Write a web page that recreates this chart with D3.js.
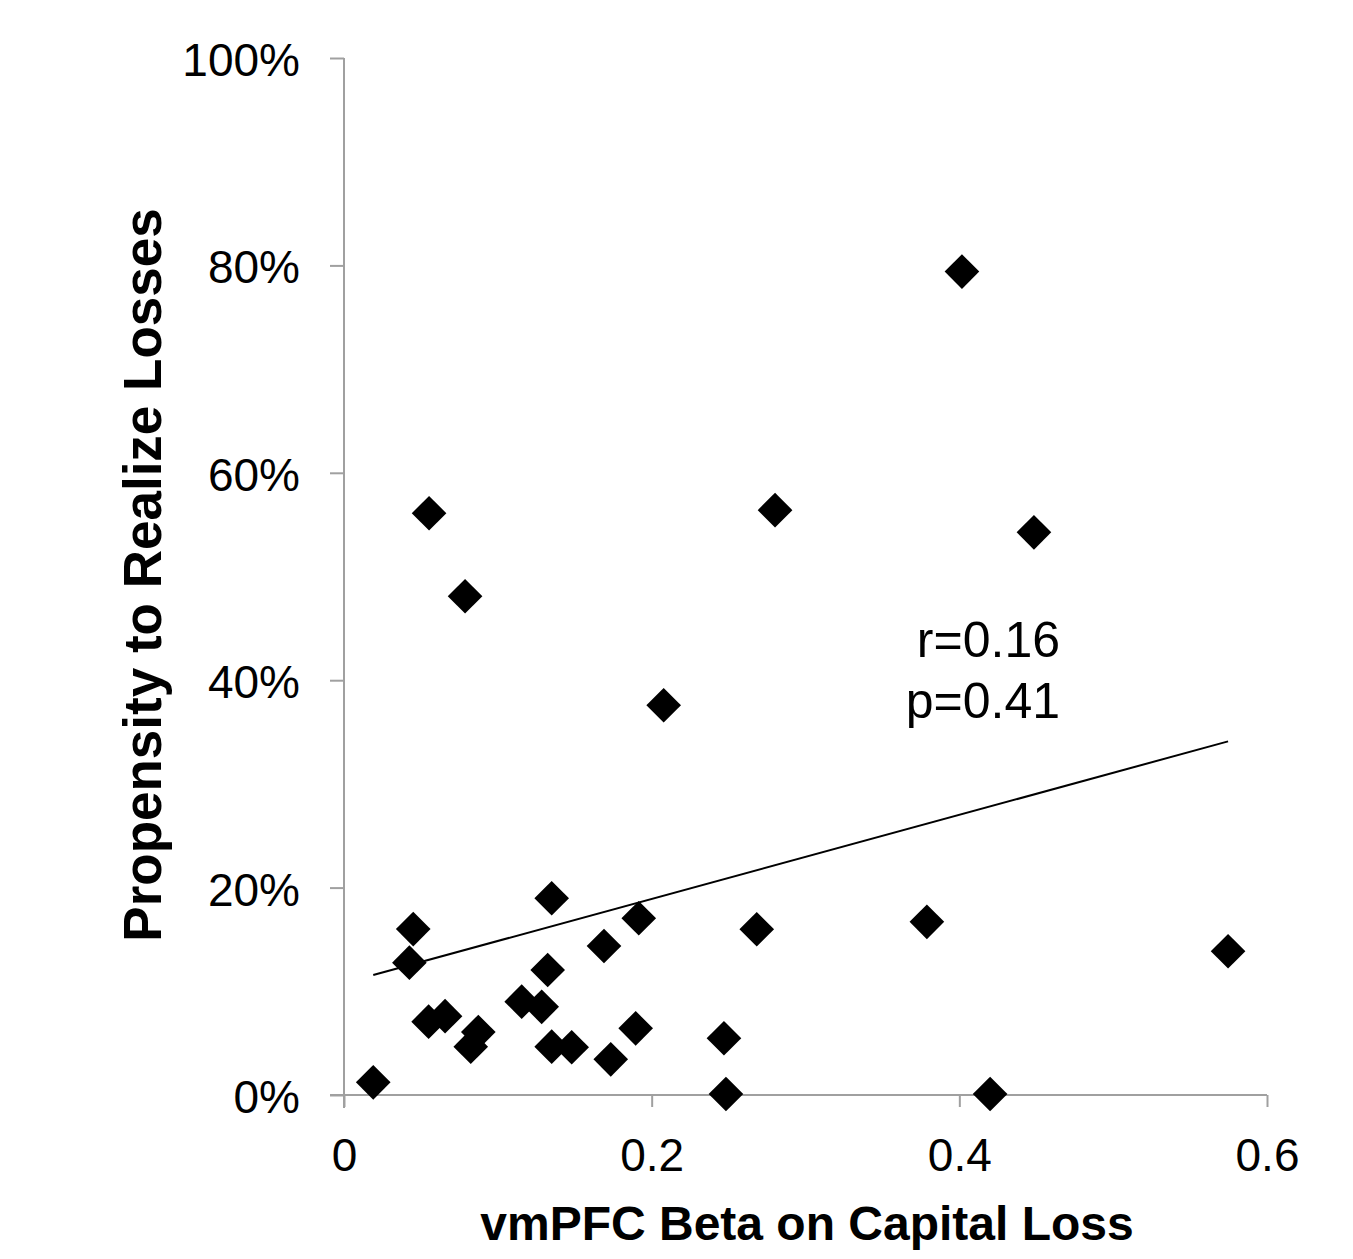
<!DOCTYPE html>
<html>
<head>
<meta charset="utf-8">
<script src="https://cdn.jsdelivr.net/npm/d3@7"></script>
<style>
  html, body { margin: 0; padding: 0; background: #fff; }
  svg { display: block; }
  text { font-family: "Liberation Sans", Arial, sans-serif; fill: #000; }
</style>
</head>
<body>
<svg id="chart" width="1353" height="1259"></svg>
<script>
// ---- data ----
const betaValues = [0.019, 0.045, 0.0425, 0.055, 0.0657, 0.0873, 0.0824, 0.1155, 0.1285, 0.1324,
                    0.135, 0.135, 0.148, 0.1734, 0.169, 0.1896, 0.1916, 0.2683, 0.3789, 0.5747,
                    0.247, 0.2483, 0.42, 0.0553, 0.0787, 0.2078, 0.4017, 0.2802, 0.4485];
const propensityValues = [0.0122, 0.160, 0.1276, 0.0707, 0.076, 0.0607, 0.0466, 0.090, 0.085, 0.1205,
                          0.1897, 0.0466, 0.046, 0.0344, 0.1437, 0.0643, 0.1704, 0.1598, 0.167, 0.1386,
                          0.0547, 0.001, 0.001, 0.561, 0.481, 0.3758, 0.794, 0.564, 0.5426];
const trendX = [0.019, 0.5747];
const trendY = [0.1157, 0.341];
const xTicks = [0, 0.2, 0.4, 0.6];
const yTicks = [0, 0.2, 0.4, 0.6, 0.8, 1.0];
const xTitle = "vmPFC Beta on Capital Loss";
const yTitle = "Propensity to Realize Losses";
const statLines = ["r=0.16", "p=0.41"];

// ---- layout ----
const svg = d3.select("#chart");
const x = d3.scaleLinear().domain([0, 0.6]).range([344, 1267]);
const y = d3.scaleLinear().domain([0, 1]).range([1095, 58]);
const axisColor = "#a0a0a0";

// y axis
const yAxis = svg.append("g").attr("transform", `translate(${x(0)},0)`)
  .call(d3.axisLeft(y).tickValues(yTicks).tickFormat(d3.format(".0%")).tickSize(14).tickPadding(30));
yAxis.select(".domain").attr("stroke", axisColor).attr("stroke-width", 2).attr("d", `M0,${y(1)}V${y(0) + 13}`);
yAxis.selectAll(".tick line").attr("stroke", axisColor).attr("stroke-width", 2);
yAxis.selectAll(".tick text").attr("font-size", 46).attr("font-family", "Liberation Sans, Arial, sans-serif")
  .attr("fill", "#000").attr("dy", "0.38em");

// x axis
const xAxis = svg.append("g").attr("transform", `translate(0,${y(0)})`)
  .call(d3.axisBottom(x).tickValues(xTicks).tickFormat(d => d === 0 ? "0" : d3.format(".1f")(d)).tickSize(12).tickPadding(31));
xAxis.select(".domain").attr("stroke", axisColor).attr("stroke-width", 2).attr("d", `M${x(0) - 14},0H${x(0.6)}`);
xAxis.selectAll(".tick line").attr("stroke", axisColor).attr("stroke-width", 2);
xAxis.selectAll(".tick text").attr("font-size", 46).attr("font-family", "Liberation Sans, Arial, sans-serif")
  .attr("fill", "#000").attr("dy", "0.71em");

// trend line
svg.append("line")
  .attr("x1", x(trendX[0])).attr("y1", y(trendY[0]))
  .attr("x2", x(trendX[1])).attr("y2", y(trendY[1]))
  .attr("stroke", "#000").attr("stroke-width", 2);

// points (diamonds)
const pts = betaValues.map((b, i) => ({ b, p: propensityValues[i] }));
const diamond = d3.symbol().type(d3.symbolSquare).size(600);
svg.append("g").selectAll("path").data(pts).join("path")
  .attr("d", diamond)
  .attr("transform", d => `translate(${x(d.b)},${y(d.p)}) rotate(45)`)
  .attr("fill", "#000");

// stats text
svg.append("g").selectAll("text").data(statLines).join("text")
  .attr("x", 1060).attr("y", (d, i) => 657 + i * 61)
  .attr("text-anchor", "end").attr("font-size", 50)
  .text(d => d);

// axis titles
svg.append("text")
  .attr("x", 807).attr("y", 1240)
  .attr("text-anchor", "middle").attr("font-size", 48).attr("font-weight", "bold")
  .text(xTitle);

svg.append("text")
  .attr("transform", `translate(161,575) rotate(-90)`)
  .attr("text-anchor", "middle").attr("font-size", 53).attr("font-weight", "bold")
  .text(yTitle);
</script>
</body>
</html>
